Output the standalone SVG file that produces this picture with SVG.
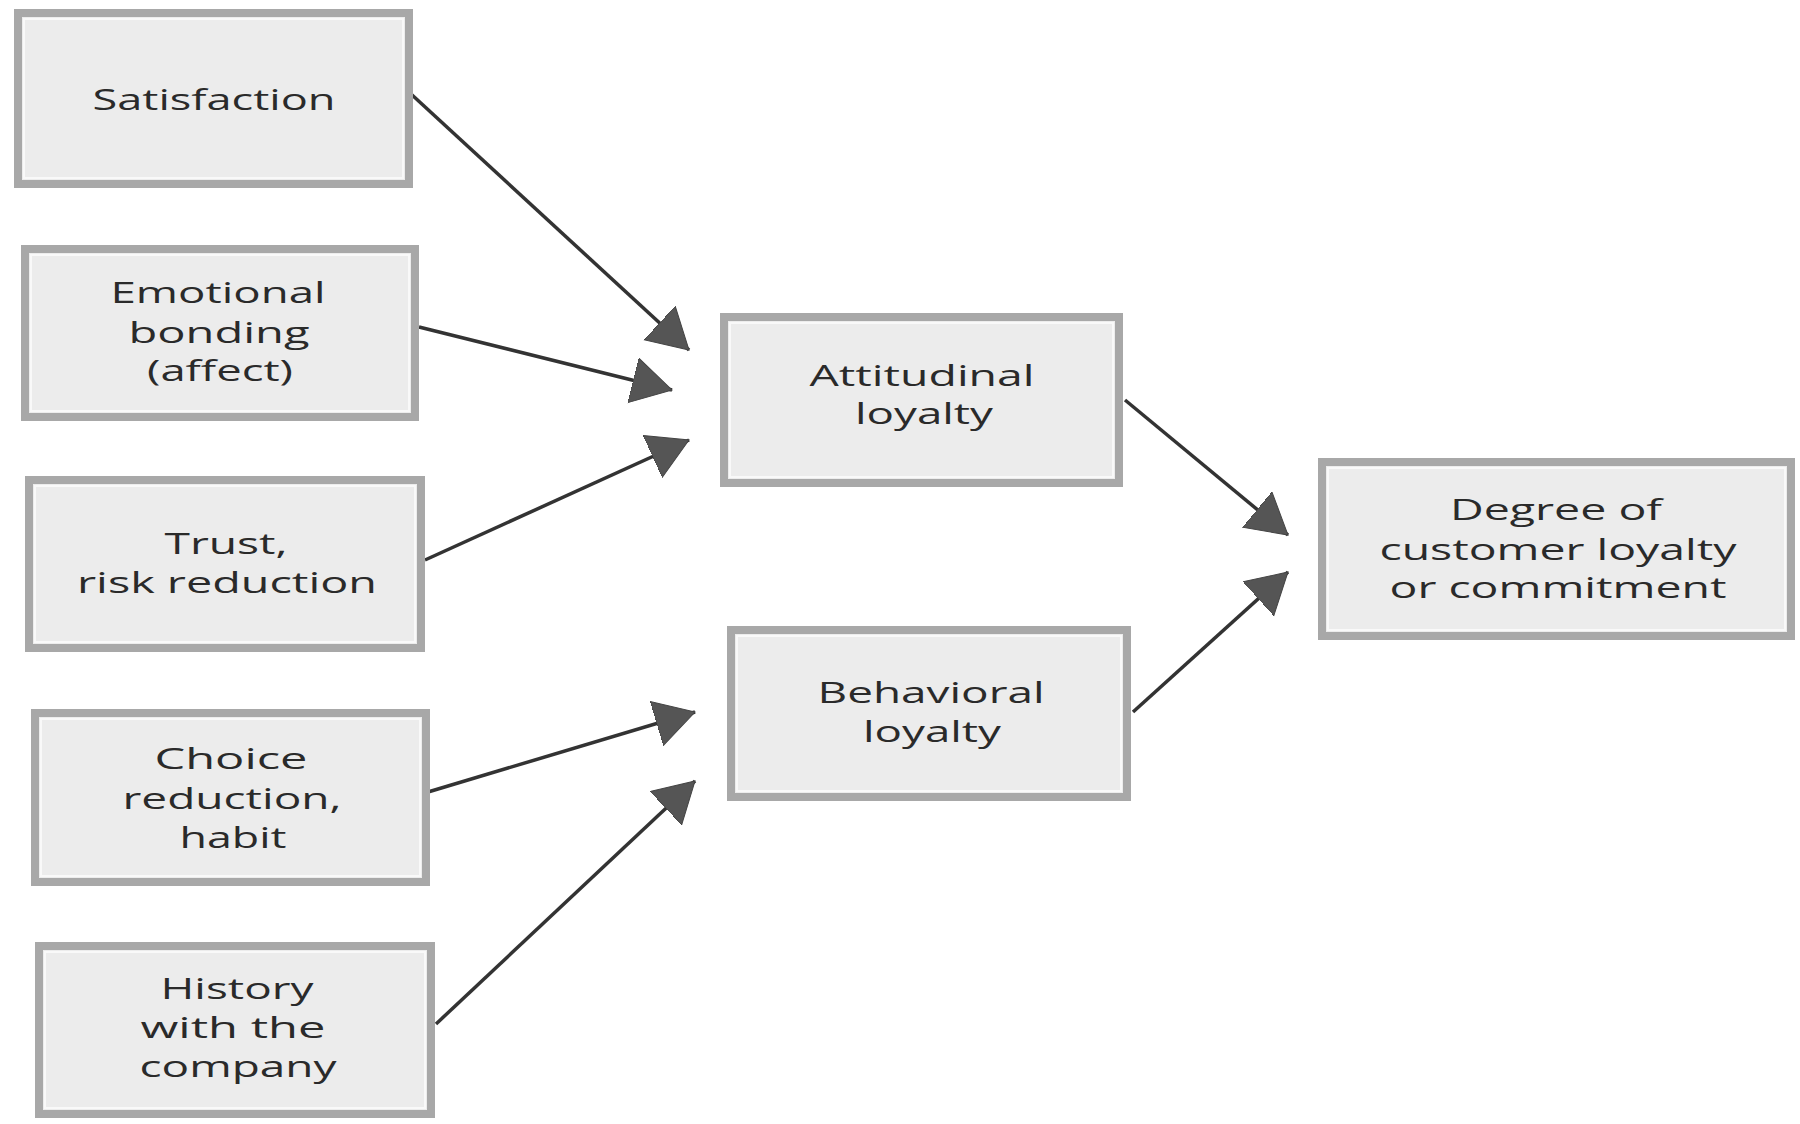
<svg xmlns="http://www.w3.org/2000/svg" width="1800" height="1124" viewBox="0 0 1800 1124">
  <style>
    .frame { fill: #ececec; stroke: #a8a8a8; stroke-width: 8; }
    .inner { fill: none; stroke: #f9f9f9; stroke-width: 2; }
    .label { font-family: "Open Sans", "Liberation Sans", sans-serif; font-size: 30px; fill: #2a2a2a; text-anchor: middle; }
    .link { stroke: #333333; stroke-width: 3.5; fill: none; marker-end: url(#head); }
  </style>
  <defs>
    <marker id="head" markerUnits="userSpaceOnUse" markerWidth="44" markerHeight="48" refX="40" refY="23" orient="auto">
      <path d="M0,0 L40,23 L0,46 Z" fill="#555555" stroke="#444444" stroke-width="1"/>
    </marker>
  </defs>
  <rect width="1800" height="1124" fill="#ffffff"/>

  <!-- connectors -->
  <g id="connectors">
    <line class="link" x1="411" y1="94" x2="689" y2="350"/>
    <line class="link" x1="419" y1="327" x2="672" y2="390"/>
    <line class="link" x1="425" y1="560" x2="689" y2="440"/>
    <line class="link" x1="428" y1="792" x2="695" y2="712"/>
    <line class="link" x1="436" y1="1024" x2="695" y2="781"/>
    <line class="link" x1="1125" y1="400" x2="1288" y2="535"/>
    <line class="link" x1="1133" y1="712" x2="1288" y2="572"/>
  </g>

  <!-- antecedents -->
  <g id="satisfaction">
    <rect class="frame" x="18" y="13" width="391" height="171"/>
    <rect class="inner" x="24" y="19" width="379" height="159"/>
    <text class="label" x="214" y="110" textLength="243" lengthAdjust="spacingAndGlyphs">Satisfaction</text>
  </g>
  <g id="emotional-bonding">
    <rect class="frame" x="25" y="249" width="390" height="168"/>
    <rect class="inner" x="31" y="255" width="378" height="156"/>
    <text class="label" x="218" y="303" textLength="215" lengthAdjust="spacingAndGlyphs">Emotional</text>
    <text class="label" x="219" y="343" textLength="181" lengthAdjust="spacingAndGlyphs">bonding</text>
    <text class="label" x="220" y="381" textLength="146" lengthAdjust="spacingAndGlyphs">(affect)</text>
  </g>
  <g id="trust">
    <rect class="frame" x="29" y="480" width="392" height="168"/>
    <rect class="inner" x="35" y="486" width="380" height="156"/>
    <text class="label" x="226" y="554" textLength="123" lengthAdjust="spacingAndGlyphs">Trust,</text>
    <text class="label" x="227" y="593" textLength="300" lengthAdjust="spacingAndGlyphs">risk reduction</text>
  </g>
  <g id="choice-reduction">
    <rect class="frame" x="35" y="713" width="391" height="169"/>
    <rect class="inner" x="41" y="719" width="379" height="157"/>
    <text class="label" x="231" y="769" textLength="153" lengthAdjust="spacingAndGlyphs">Choice</text>
    <text class="label" x="232" y="809" textLength="219" lengthAdjust="spacingAndGlyphs">reduction,</text>
    <text class="label" x="233" y="848" textLength="107" lengthAdjust="spacingAndGlyphs">habit</text>
  </g>
  <g id="history">
    <rect class="frame" x="39" y="946" width="392" height="168"/>
    <rect class="inner" x="45" y="952" width="380" height="156"/>
    <text class="label" x="237" y="999" textLength="153" lengthAdjust="spacingAndGlyphs">History</text>
    <text class="label" x="233" y="1038" textLength="185" lengthAdjust="spacingAndGlyphs">with the</text>
    <text class="label" x="238" y="1077" textLength="197" lengthAdjust="spacingAndGlyphs">company</text>
  </g>

  <!-- loyalty types -->
  <g id="attitudinal">
    <rect class="frame" x="724" y="317" width="395" height="166"/>
    <rect class="inner" x="730" y="323" width="383" height="154"/>
    <text class="label" x="922" y="386" textLength="225" lengthAdjust="spacingAndGlyphs">Attitudinal</text>
    <text class="label" x="924" y="424" textLength="138" lengthAdjust="spacingAndGlyphs">loyalty</text>
  </g>
  <g id="behavioral">
    <rect class="frame" x="731" y="630" width="396" height="167"/>
    <rect class="inner" x="737" y="636" width="384" height="155"/>
    <text class="label" x="931" y="703" textLength="227" lengthAdjust="spacingAndGlyphs">Behavioral</text>
    <text class="label" x="932" y="742" textLength="138" lengthAdjust="spacingAndGlyphs">loyalty</text>
  </g>

  <!-- outcome -->
  <g id="degree">
    <rect class="frame" x="1322" y="462" width="469" height="174"/>
    <rect class="inner" x="1328" y="468" width="457" height="162"/>
    <text class="label" x="1556" y="520" textLength="212" lengthAdjust="spacingAndGlyphs">Degree of</text>
    <text class="label" x="1558" y="560" textLength="357" lengthAdjust="spacingAndGlyphs">customer loyalty</text>
    <text class="label" x="1558" y="598" textLength="337" lengthAdjust="spacingAndGlyphs">or commitment</text>
  </g>
</svg>
